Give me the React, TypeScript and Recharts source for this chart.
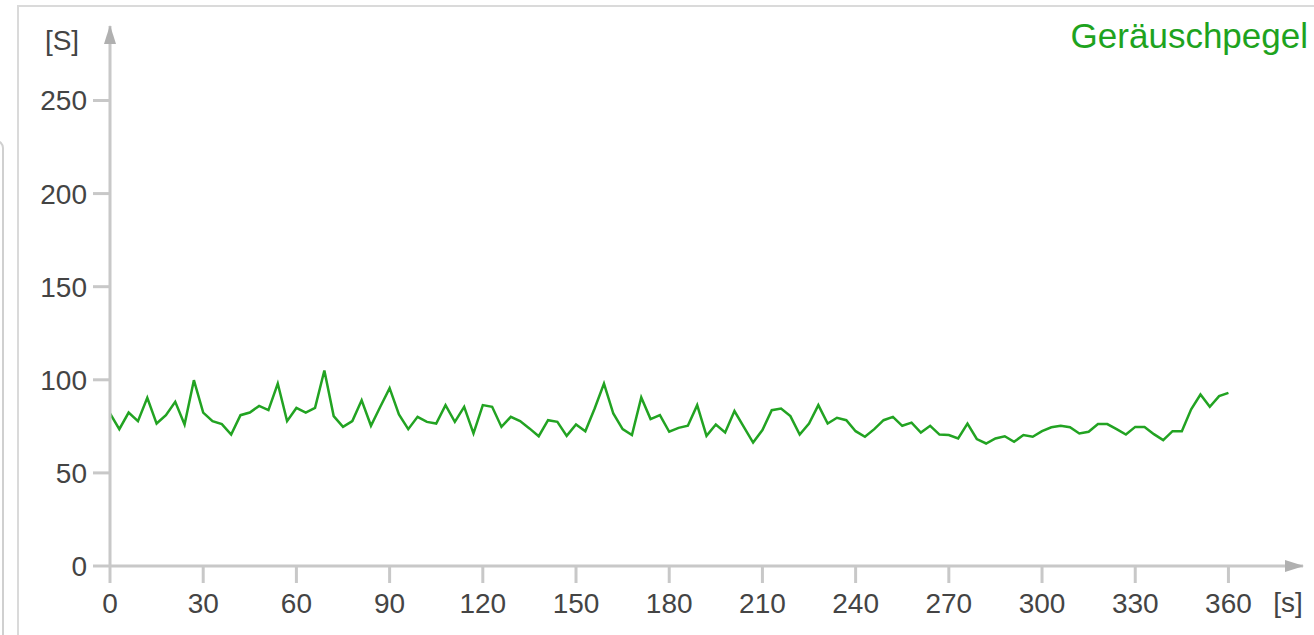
import { LineChart, Line, XAxis, YAxis } from 'recharts';

// time in seconds, one reading every 3 s
const times = [
  0, 3, 6, 9, 12, 15, 18, 21, 24, 27, 30, 33, 36, 39, 42, 45, 48, 51, 54, 57,
  60, 63, 66, 69, 72, 75, 78, 81, 84, 87, 90, 93, 96, 99, 102, 105, 108, 111, 114, 117,
  120, 123, 126, 129, 132, 135, 138, 141, 144, 147, 150, 153, 156, 159, 162, 165, 168, 171, 174, 177,
  180, 183, 186, 189, 192, 195, 198, 201, 204, 207, 210, 213, 216, 219, 222, 225, 228, 231, 234, 237,
  240, 243, 246, 249, 252, 255, 258, 261, 264, 267, 270, 273, 276, 279, 282, 285, 288, 291, 294, 297,
  300, 303, 306, 309, 312, 315, 318, 321, 324, 327, 330, 333, 336, 339, 342, 345, 348, 351, 354, 357,
  360,
];

const noise = [
  82, 73.5, 82.4, 77.8, 90.3, 76.5, 81, 88.2, 76, 99.8, 82.4, 77.8, 76.2, 70.6, 81, 82.4, 86, 83.7, 98, 77.8,
  84.9, 82.4, 84.9, 105, 80.5, 74.7, 77.8, 89, 75.3, 85.5, 95.5, 81.4, 73.5, 80.1, 77.4, 76.5, 86.4, 77.4, 85.5, 71.2,
  86.4, 85.5, 74.7, 80.1, 77.8, 73.9, 69.7, 78.3, 77.4, 69.9, 76, 72.4, 84.6, 98, 81.9, 73.5, 70.3, 90.5, 78.9, 81,
  72.1, 74.2, 75.3, 86.4, 69.9, 76, 71.7, 83.2, 74.7, 66.3, 73, 83.7, 84.6, 80.5, 70.6, 76.5, 86.4, 76.5, 79.6, 78.3,
  72.4, 69.4, 73.5, 78.3, 80.1, 75.3, 77, 71.7, 75.3, 70.6, 70.3, 68.5, 76.5, 68.2, 65.8, 68.5, 69.7, 66.7, 70.3, 69.4,
  72.4, 74.5, 75.3, 74.5, 71.2, 72.1, 76.2, 76.2, 73.5, 70.6, 74.7, 74.7, 70.8, 67.6, 72.4, 72.4, 84.2, 92.1, 85.5, 91.2,
  93,
];

const xTicks = [0, 30, 60, 90, 120, 150, 180, 210, 240, 270, 300, 330, 360];
const yTicks = [0, 50, 100, 150, 200, 250];

const data = times.map((t, i) => ({ t, v: noise[i] }));

const FONT = '"Liberation Sans", Arial, sans-serif';
const AXIS = '#c8c8c8';
const GREEN = '#22a322';

export default function App() {
  const tick = { fill: '#444', fontSize: 28, fontFamily: FONT };

  return (
    <div
      style={{
        position: 'absolute',
        left: 0,
        top: 0,
        width: 1314,
        height: 635,
        overflow: 'hidden',
        background: '#fff',
        fontFamily: FONT,
      }}
    >
      {/* neighbouring panel edge and the chart frame */}
      <div
        style={{
          position: 'absolute', left: -20, top: 140, width: 20, height: 600,
          border: '2px solid #d0d0d0', borderRadius: 8,
        }}
      />
      <div
        style={{
          position: 'absolute', left: 17, top: 5, width: 1400, height: 700,
          border: '2px solid #dadada',
        }}
      />

      <svg width={0} height={0} style={{ position: 'absolute' }}>
        <defs>
          <marker
            id="axisArrow"
            markerUnits="userSpaceOnUse"
            markerWidth={19}
            markerHeight={12}
            refX={18}
            refY={6}
            orient="auto-start-reverse"
          >
            <path d="M0,0 L19,6 L0,12 z" fill="#b0b0b0" />
          </marker>
        </defs>
      </svg>

      <div style={{ position: 'absolute', left: 0, top: 0 }}>
        <LineChart
          width={1314}
          height={635}
          data={data}
          margin={{ top: 26, right: 11, bottom: 29, left: 0 }}
        >
          <XAxis
            type="number"
            dataKey="t"
            domain={[0, 384]}
            ticks={xTicks}
            tick={tick}
            tickSize={17}
            tickMargin={10}
            height={40}
            axisLine={{ stroke: AXIS, strokeWidth: 3, markerEnd: 'url(#axisArrow)' }}
            tickLine={{ stroke: AXIS, strokeWidth: 3 }}
          />
          <YAxis
            type="number"
            domain={[0, 290]}
            ticks={yTicks}
            tick={tick}
            tickSize={17}
            tickMargin={6}
            width={110}
            axisLine={{ stroke: AXIS, strokeWidth: 3, markerStart: 'url(#axisArrow)' }}
            tickLine={{ stroke: AXIS, strokeWidth: 3 }}
          />
          <Line
            type="linear"
            dataKey="v"
            stroke={GREEN}
            strokeWidth={2.5}
            dot={false}
            activeDot={false}
            isAnimationActive={false}
          />
        </LineChart>
      </div>

      <svg
        width={1314}
        height={635}
        style={{ position: 'absolute', left: 0, top: 0, pointerEvents: 'none' }}
      >
        <text x={62} y={50} textAnchor="middle" fontSize={28} fill="#444" fontFamily={FONT}>
          [S]
        </text>
        <text x={1288} y={612} textAnchor="middle" fontSize={28} fill="#444" fontFamily={FONT}>
          [s]
        </text>
        <text x={1308} y={48} textAnchor="end" fontSize={35} fill="#1ea31e" fontFamily={FONT}>
          Geräuschpegel
        </text>
      </svg>
    </div>
  );
}
